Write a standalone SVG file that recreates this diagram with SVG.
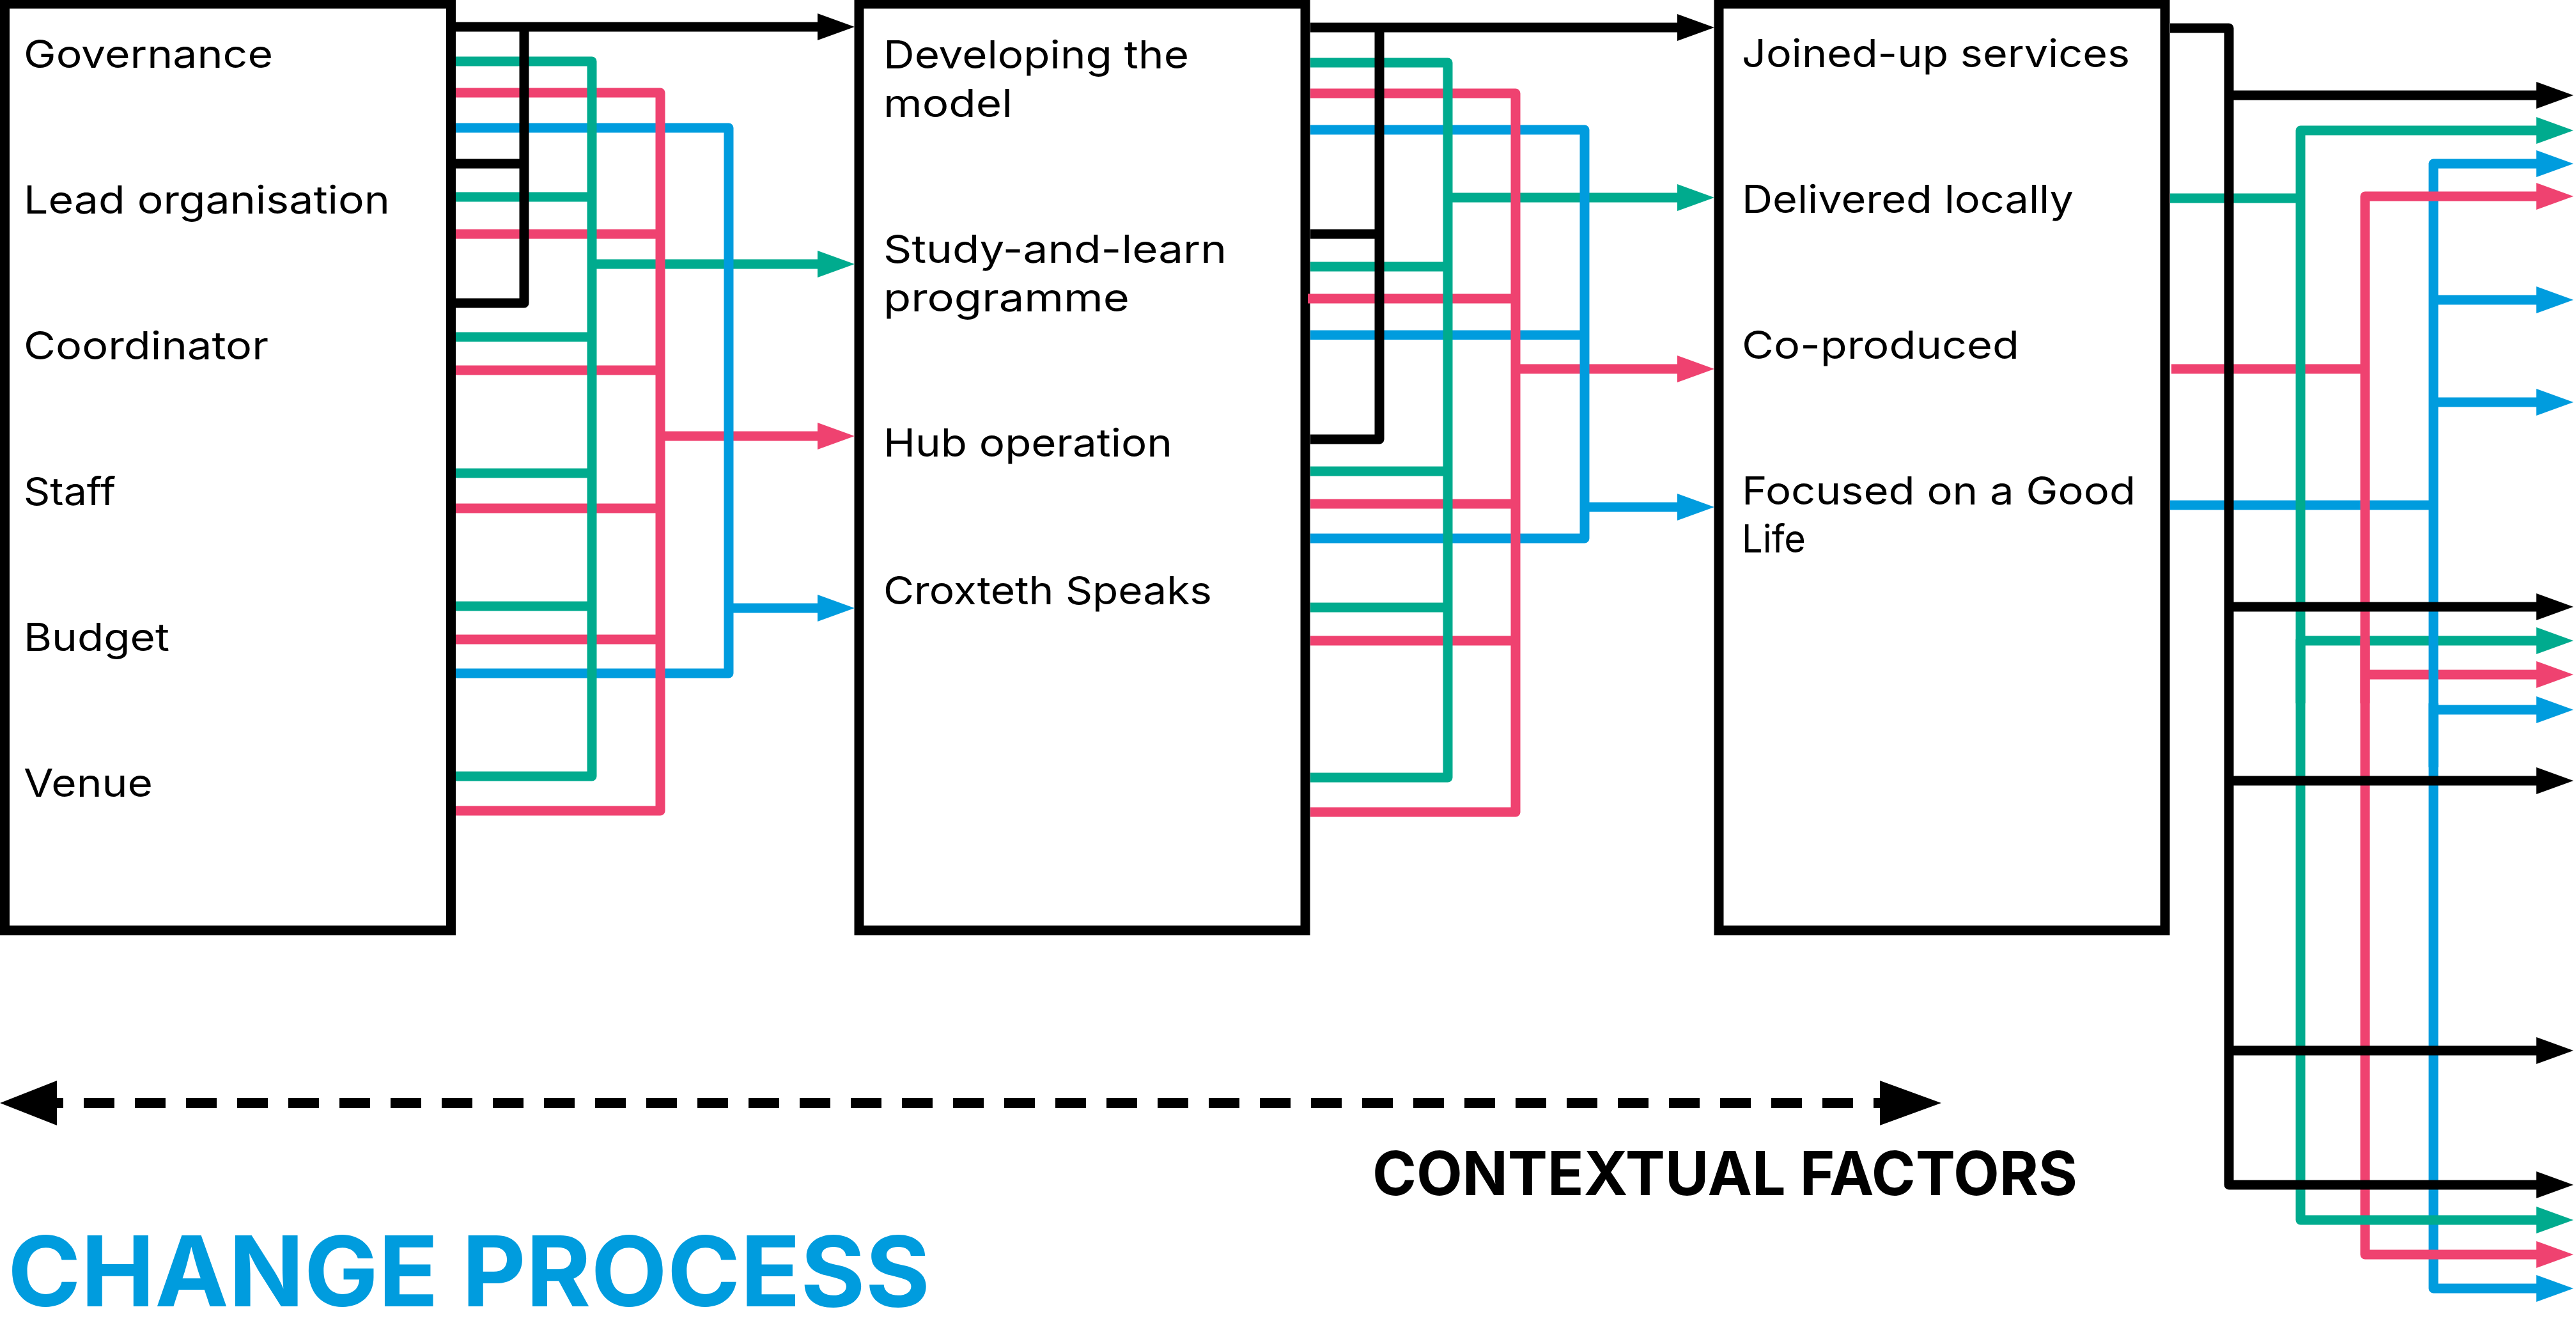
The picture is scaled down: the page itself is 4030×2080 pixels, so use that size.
<svg xmlns="http://www.w3.org/2000/svg" width="4030" height="2080" viewBox="0 0 4030 2080">
<style>
.box{fill:#fff;stroke:#000;stroke-width:15}
.lbl{font-family:Inter,"Liberation Sans",sans-serif;font-size:60px;fill:#000}
.c{fill:none;stroke-width:15;stroke-linejoin:round;stroke-linecap:butt}
.k{stroke:#000}.g{stroke:#00AB8E}.p{stroke:#EF4270}.b{stroke:#009CDE}
.ak{marker-end:url(#ak)}.ag{marker-end:url(#ag)}.ap{marker-end:url(#ap)}.ab{marker-end:url(#ab)}
.head{font-family:Inter,"Liberation Sans",sans-serif;font-weight:700}
</style>
<defs>
<marker id="ak" markerUnits="userSpaceOnUse" markerWidth="60" markerHeight="44" refX="0" refY="21" orient="auto"><path d="M0,0 L58,21 L0,42 z" fill="#000"/></marker>
<marker id="ag" markerUnits="userSpaceOnUse" markerWidth="60" markerHeight="44" refX="0" refY="21" orient="auto"><path d="M0,0 L58,21 L0,42 z" fill="#00AB8E"/></marker>
<marker id="ap" markerUnits="userSpaceOnUse" markerWidth="60" markerHeight="44" refX="0" refY="21" orient="auto"><path d="M0,0 L58,21 L0,42 z" fill="#EF4270"/></marker>
<marker id="ab" markerUnits="userSpaceOnUse" markerWidth="60" markerHeight="44" refX="0" refY="21" orient="auto"><path d="M0,0 L58,21 L0,42 z" fill="#009CDE"/></marker>
</defs>
<rect width="4030" height="2080" fill="#fff"/>

<g id="node-inputs">
<rect class="box" x="7.5" y="6" width="698" height="1449"/>
<text class="lbl" x="37" y="106" textLength="390" lengthAdjust="spacingAndGlyphs">Governance</text>
<text class="lbl" x="37" y="334" textLength="573" lengthAdjust="spacingAndGlyphs">Lead organisation</text>
<text class="lbl" x="37" y="562" textLength="383" lengthAdjust="spacingAndGlyphs">Coordinator</text>
<text class="lbl" x="37" y="790" textLength="144" lengthAdjust="spacingAndGlyphs">Staff</text>
<text class="lbl" x="37" y="1018" textLength="228" lengthAdjust="spacingAndGlyphs">Budget</text>
<text class="lbl" x="37" y="1246" textLength="202" lengthAdjust="spacingAndGlyphs">Venue</text>
</g>

<g id="node-activities">
<rect class="box" x="1344" y="6" width="698" height="1449"/>
<text class="lbl" x="1382" y="107" textLength="478" lengthAdjust="spacingAndGlyphs">Developing the</text>
<text class="lbl" x="1382" y="183" textLength="202" lengthAdjust="spacingAndGlyphs">model</text>
<text class="lbl" x="1382" y="411" textLength="537" lengthAdjust="spacingAndGlyphs">Study-and-learn</text>
<text class="lbl" x="1382" y="487" textLength="385" lengthAdjust="spacingAndGlyphs">programme</text>
<text class="lbl" x="1382" y="714" textLength="452" lengthAdjust="spacingAndGlyphs">Hub operation</text>
<text class="lbl" x="1382" y="945" textLength="514" lengthAdjust="spacingAndGlyphs">Croxteth Speaks</text>
</g>

<g id="node-outcomes">
<rect class="box" x="2689" y="6" width="698" height="1449"/>
<text class="lbl" x="2725" y="105" textLength="607" lengthAdjust="spacingAndGlyphs">Joined-up services</text>
<text class="lbl" x="2725" y="333" textLength="519" lengthAdjust="spacingAndGlyphs">Delivered locally</text>
<text class="lbl" x="2725" y="561" textLength="434" lengthAdjust="spacingAndGlyphs">Co-produced</text>
<text class="lbl" x="2725" y="789" textLength="616" lengthAdjust="spacingAndGlyphs">Focused on a Good</text>
<text class="lbl" x="2725" y="864" textLength="100" lengthAdjust="spacingAndGlyphs">Life</text>
</g>

<g id="connectors">
<path class="c g" d="M713,308H926M713,527H926M713,740H926M713,948H926"/>
<path class="c p" d="M713,366H1033M713,579H1033M713,795H1033M713,1000H1033"/>
<path class="c k" d="M713,256H820"/>
<path class="c g ag" d="M926,413H1279"/>
<path class="c p ap" d="M1033,682H1279"/>
<path class="c b ab" d="M1140,951H1279"/>
<path class="c b" d="M713,200H1140V1053H713"/>
<path class="c p" d="M713,145H1033V1268H713"/>
<path class="c g" d="M713,96H926V1214H713"/>
<path class="c k" d="M820,42V474H713"/>
<path class="c k ak" d="M713,42H1279"/>

<path class="c g" d="M2050,417H2265M2050,737H2265M2050,950H2265"/>
<path class="c p" d="M2046,467H2371M2050,788H2371M2050,1002H2371"/>
<path class="c b" d="M2050,524H2479"/>
<path class="c k" d="M2050,366H2158"/>
<path class="c g ag" d="M2265,309H2624"/>
<path class="c p ap" d="M2371,577H2624"/>
<path class="c b ab" d="M2479,793H2624"/>
<path class="c b" d="M2050,203H2479V842H2050"/>
<path class="c p" d="M2050,146H2371V1270H2050"/>
<path class="c g" d="M2050,98H2265V1216H2050"/>
<path class="c k" d="M2158,43V687H2050"/>
<path class="c k ak" d="M2050,43H2624"/>

<path class="c g" d="M3395,310H3599"/>
<path class="c p" d="M3397,577H3700"/>
<path class="c b" d="M3395,790H3807"/>
<path class="c b ab" d="M3807,469H3968"/>
<path class="c b ab" d="M3807,629H3968"/>
<path class="c b ab" d="M3807,1110H3968"/>
<path class="c p ap" d="M3700,1055H3968"/>
<path class="c g ag" d="M3599,1002H3968"/>
<path class="c b ab" d="M3807,1200V256H3968"/>
<path class="c b ab" d="M3807,1100V2015H3968"/>
<path class="c p ap" d="M3700,1100V307H3968"/>
<path class="c p ap" d="M3700,1000V1962H3968"/>
<path class="c g ag" d="M3599,1100V204H3968"/>
<path class="c g ag" d="M3599,1000V1908H3968"/>
<path class="c k ak" d="M3487,149H3968"/>
<path class="c k ak" d="M3487,949H3968"/>
<path class="c k ak" d="M3487,1221H3968"/>
<path class="c k ak" d="M3487,1643H3968"/>
<path class="c k ak" d="M3395,44H3487V1853H3968"/>
</g>

<g id="contextual-factors">
<path d="M51,1725H2941" fill="none" stroke="#000" stroke-width="16" stroke-dasharray="48 32"/>
<polygon points="0,1725 89,1690 89,1760" fill="#000"/>
<polygon points="3037,1725 2941,1690 2941,1760" fill="#000"/>
<text class="head" x="2147" y="1869" font-size="95" textLength="1103" lengthAdjust="spacingAndGlyphs" fill="#000">CONTEXTUAL FACTORS</text>
</g>

<g id="change-process">
<text class="head" x="12" y="2043" font-size="152" textLength="1443" lengthAdjust="spacingAndGlyphs" fill="#009CDE">CHANGE PROCESS</text>
</g>
</svg>
